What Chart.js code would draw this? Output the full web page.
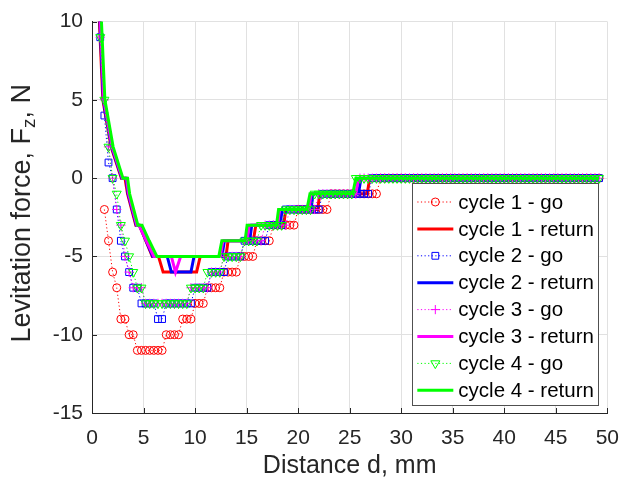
<!DOCTYPE html>
<html>
<head>
<meta charset="utf-8">
<script src="https://cdn.jsdelivr.net/npm/chart.js@4.4.1/dist/chart.umd.min.js"></script>
<style>
  html, body { margin: 0; padding: 0; background: #ffffff; }
  canvas { display: block; }
</style>
</head>
<body>
<canvas id="chart" width="632" height="481"></canvas>
<script>
// Distances at which the "go" sweeps were sampled, mm
const goDistance = [
  0.8, 1.2, 1.6, 2.0, 2.4, 2.8, 3.2, 3.6, 4.0, 4.4,
  4.8, 5.2, 5.6, 6.0, 6.4, 6.8, 7.2, 7.6, 8.0, 8.4,
  8.8, 9.2, 9.6, 10.0, 10.4, 10.8, 11.2, 11.6, 12.0, 12.4,
  12.8, 13.2, 13.6, 14.0, 14.4, 14.8, 15.2, 15.6, 16.0, 16.4,
  16.8, 17.2, 17.6, 18.0, 18.4, 18.8, 19.2, 19.6, 20.0, 20.4,
  20.8, 21.2, 21.6, 22.0, 22.4, 22.8, 23.2, 23.6, 24.0, 24.4,
  24.8, 25.2, 25.6, 26.0, 26.4, 26.8, 27.2, 27.6, 28.0, 28.4,
  28.8, 29.2, 29.6, 30.0, 30.4, 30.8, 31.2, 31.6, 32.0, 32.4,
  32.8, 33.2, 33.6, 34.0, 34.4, 34.8, 35.2, 35.6, 36.0, 36.4,
  36.8, 37.2, 37.6, 38.0, 38.4, 38.8, 39.2, 39.6, 40.0, 40.4,
  40.8, 41.2, 41.6, 42.0, 42.4, 42.8, 43.2, 43.6, 44.0, 44.4,
  44.8, 45.2, 45.6, 46.0, 46.4, 46.8, 47.2, 47.6, 48.0, 48.4,
  48.8, 49.2
];

// Levitation force on the "go" sweeps, N
const goForce1 = [
  null, -2, -4, -6, -7, -9, -9, -10, -10, -11,
  -11, -11, -11, -11, -11, -11, -10, -10, -10, -10,
  -9, -9, -9, -8, -8, -8, -7, -7, -7, -7,
  -6, -6, -6, -6, -5, -5, -5, -5, -4, -4,
  -4, -4, -3, -3, -3, -3, -3, -3, -2, -2,
  -2, -2, -2, -2, -2, -2, -1, -1, -1, -1,
  -1, -1, -1, -1, -1, -1, -1, -1, 0, 0,
  0, 0, 0, 0, 0, 0, 0, 0, 0, 0,
  0, 0, 0, 0, 0, 0, 0, 0, 0, 0,
  0, 0, 0, 0, 0, 0, 0, 0, 0, 0,
  0, 0, 0, 0, 0, 0, 0, 0, 0, 0,
  0, 0, 0, 0, 0, 0, 0, 0, 0, 0,
  0, 0
];
const goForce2 = [
  9, 4, 1, 0, -2, -4, -5, -6, -7, -7,
  -8, -8, -8, -8, -9, -9, -8, -8, -8, -8,
  -8, -8, -8, -7, -7, -7, -7, -6, -6, -6,
  -6, -5, -5, -5, -5, -4, -4, -4, -4, -4,
  -4, -3, -3, -3, -3, -2, -2, -2, -2, -2,
  -2, -2, -2, -2, -1, -1, -1, -1, -1, -1,
  -1, -1, -1, -1, -1, -1, 0, 0, 0, 0,
  0, 0, 0, 0, 0, 0, 0, 0, 0, 0,
  0, 0, 0, 0, 0, 0, 0, 0, 0, 0,
  0, 0, 0, 0, 0, 0, 0, 0, 0, 0,
  0, 0, 0, 0, 0, 0, 0, 0, 0, 0,
  0, 0, 0, 0, 0, 0, 0, 0, 0, 0,
  0, 0
];
const goForce3 = [
  9, 5, 2, 0, -2, -3, -5, -6, -7, -7,
  -7, -8, -8, -8, -8, -8, -8, -8, -8, -8,
  -8, -8, -7, -7, -7, -7, -7, -6, -6, -6,
  -5, -5, -5, -5, -5, -4, -4, -4, -4, -4,
  -3, -3, -3, -3, -3, -3, -2, -2, -2, -2,
  -2, -2, -2, -1, -1, -1, -1, -1, -1, -1,
  -1, -1, -1, 0, 0, 0, 0, 0, 0, 0,
  0, 0, 0, 0, 0, 0, 0, 0, 0, 0,
  0, 0, 0, 0, 0, 0, 0, 0, 0, 0,
  0, 0, 0, 0, 0, 0, 0, 0, 0, 0,
  0, 0, 0, 0, 0, 0, 0, 0, 0, 0,
  0, 0, 0, 0, 0, 0, 0, 0, 0, 0,
  0, 0
];
const goForce4 = [
  9, 5, 2, 0, -1, -3, -4, -5, -6, -7,
  -7, -8, -8, -8, -8, -8, -8, -8, -8, -8,
  -8, -8, -7, -7, -7, -7, -6, -6, -6, -6,
  -5, -5, -5, -5, -5, -4, -4, -4, -4, -3,
  -3, -3, -3, -3, -3, -2, -2, -2, -2, -2,
  -2, -2, -1, -1, -1, -1, -1, -1, -1, -1,
  -1, -1, 0, 0, 0, 0, 0, 0, 0, 0,
  0, 0, 0, 0, 0, 0, 0, 0, 0, 0,
  0, 0, 0, 0, 0, 0, 0, 0, 0, 0,
  0, 0, 0, 0, 0, 0, 0, 0, 0, 0,
  0, 0, 0, 0, 0, 0, 0, 0, 0, 0,
  0, 0, 0, 0, 0, 0, 0, 0, 0, 0,
  0, 0
];

// "Return" sweeps: distance (mm) and force (N) where the reading changes
const returnDistance1 = [0.65, 1.05, 1.85, 2.85, 3.2, 3.45, 4.25, 4.6, 5.85, 6.45, 6.9, 10.15, 10.5, 13.0, 13.2, 15.65, 15.9, 18.6, 18.8, 21.9, 22.1, 26.7, 26.95, 49.2];
const returnForce1    = [11, 5, 2, 0, 0, -1, -3, -3, -5, -5, -6, -6, -5, -5, -4, -4, -3, -3, -2, -2, -1, -1, 0, 0];
const returnDistance2 = [0.7, 1.1, 1.9, 2.9, 3.3, 3.5, 4.3, 4.6, 5.9, 7.3, 7.7, 9.6, 9.9, 12.6, 12.85, 15.3, 15.5, 18.25, 18.45, 21.25, 21.45, 25.85, 26.1, 49.2];
const returnForce2    = [11, 5, 2, 0, 0, -1, -3, -3, -5, -5, -6, -6, -5, -5, -4, -4, -3, -3, -2, -2, -1, -1, 0, 0];
const returnDistance3 = [0.75, 1.15, 1.95, 2.95, 3.35, 3.55, 4.35, 4.55, 6.0, 7.7, 8.1, 8.6, 12.45, 12.7, 15.05, 15.25, 18.0, 18.2, 21.05, 21.25, 25.6, 25.85, 49.2];
const returnForce3    = [11, 5, 2, 0, 0, -1, -3, -3, -5, -5, -6, -5, -5, -4, -4, -3, -3, -2, -2, -1, -1, 0, 0];
const returnDistance4 = [0.85, 1.25, 2.05, 3.0, 3.45, 3.65, 4.45, 4.85, 5.55, 6.3, 12.3, 12.6, 14.85, 15.05, 17.9, 18.1, 20.85, 21.15, 25.3, 25.6, 49.2];
const returnForce4    = [11, 5, 2, 0, 0, -1, -3, -3, -4, -5, -5, -4, -4, -3, -3, -2, -2, -1, -1, 0, 0];

const xTicks = [0, 5, 10, 15, 20, 25, 30, 35, 40, 45, 50];
const yTicks = [-15, -10, -5, 0, 5, 10];
const seriesLabels = [
  'cycle 1 - go', 'cycle 1 - return',
  'cycle 2 - go', 'cycle 2 - return',
  'cycle 3 - go', 'cycle 3 - return',
  'cycle 4 - go', 'cycle 4 - return'
];

const FONT = '"Liberation Sans", Arial, Helvetica, sans-serif';
const AXIS_INK = '#262626';
const cycleColors = ['#ff0000', '#0000ff', '#ff00ff', '#00ff00'];
const markerStyles = [
  { pointStyle: 'circle',   radius: 4.0, rotation: 0 },
  { pointStyle: 'rect',     radius: 4.8, rotation: 0 },
  { pointStyle: 'cross',    radius: 4.6, rotation: 0 },
  { pointStyle: 'triangle', radius: 5.2, rotation: 180 }
];

function pairUp(xs, ys) {
  return xs.map((x, i) => ({ x: x, y: ys[i] }));
}

const goForces = [goForce1, goForce2, goForce3, goForce4];
const returnSeries = [
  [returnDistance1, returnForce1],
  [returnDistance2, returnForce2],
  [returnDistance3, returnForce3],
  [returnDistance4, returnForce4]
];

// Later series sit on top (lower "order" draws last)
const datasets = [];
for (let c = 0; c < 4; c++) {
  const m = markerStyles[c];
  datasets.push({
    label: seriesLabels[2 * c],
    data: pairUp(goDistance, goForces[c]),
    showLine: true,
    borderColor: cycleColors[c],
    borderWidth: 1,
    borderDash: [1.2, 2.4],
    pointStyle: m.pointStyle,
    pointRadius: m.radius,
    pointRotation: m.rotation,
    pointBorderColor: cycleColors[c],
    pointBackgroundColor: 'rgba(0,0,0,0)',
    pointBorderWidth: 1,
    order: 7 - 2 * c
  });
  datasets.push({
    label: seriesLabels[2 * c + 1],
    data: pairUp(returnSeries[c][0], returnSeries[c][1]),
    showLine: true,
    borderColor: cycleColors[c],
    borderWidth: 3,
    pointRadius: 0,
    order: 6 - 2 * c
  });
}

function drawMarker(ctx, style, x, y, color) {
  ctx.save();
  ctx.strokeStyle = color;
  ctx.lineWidth = 1;
  ctx.beginPath();
  if (style.pointStyle === 'circle') {
    ctx.arc(x, y, style.radius, 0, Math.PI * 2);
  } else if (style.pointStyle === 'rect') {
    const h = style.radius * Math.SQRT1_2;
    ctx.rect(x - h, y - h, 2 * h, 2 * h);
  } else if (style.pointStyle === 'cross') {
    ctx.moveTo(x - style.radius, y); ctx.lineTo(x + style.radius, y);
    ctx.moveTo(x, y - style.radius); ctx.lineTo(x, y + style.radius);
  } else {
    const r = style.radius;
    ctx.moveTo(x, y + r);
    ctx.lineTo(x - r * Math.sin(Math.PI / 3), y - r / 2);
    ctx.lineTo(x + r * Math.sin(Math.PI / 3), y - r / 2);
    ctx.closePath();
  }
  ctx.stroke();
  ctx.restore();
}

// Inward tick marks, the boxed legend and the y-axis title with subscript
const decorations = {
  id: 'decorations',
  afterDraw(chart) {
    const { ctx, chartArea, scales } = chart;
    ctx.save();

    // tick marks pointing into the plot
    ctx.strokeStyle = AXIS_INK;
    ctx.lineWidth = 1;
    ctx.beginPath();
    xTicks.forEach(v => {
      const px = Math.round(scales.x.getPixelForValue(v)) + 0.5;
      ctx.moveTo(px, chartArea.bottom);
      ctx.lineTo(px, chartArea.bottom - 5);
    });
    yTicks.forEach(v => {
      const py = Math.round(scales.y.getPixelForValue(v)) + 0.5;
      ctx.moveTo(chartArea.left, py);
      ctx.lineTo(chartArea.left + 5, py);
    });
    ctx.stroke();

    // legend
    const boxRight = chartArea.right - 9;
    const boxLeft = boxRight - 186;
    const boxTop = 183;
    const boxHeight = 222;
    ctx.fillStyle = '#ffffff';
    ctx.fillRect(boxLeft, boxTop, boxRight - boxLeft, boxHeight);
    ctx.strokeStyle = '#505050';
    ctx.lineWidth = 1;
    ctx.strokeRect(Math.round(boxLeft) + 0.5, boxTop + 0.5, Math.round(boxRight - boxLeft), boxHeight);

    ctx.font = '20.5px ' + FONT;
    ctx.textBaseline = 'middle';
    ctx.textAlign = 'left';
    for (let i = 0; i < seriesLabels.length; i++) {
      const c = Math.floor(i / 2);
      const isGo = i % 2 === 0;
      const rowY = boxTop + 19 + i * 26.9;
      const x0 = boxLeft + 5, x1 = boxLeft + 41;
      ctx.save();
      ctx.strokeStyle = cycleColors[c];
      ctx.lineWidth = isGo ? 1 : 3;
      ctx.setLineDash(isGo ? [1.2, 2.4] : []);
      ctx.beginPath();
      ctx.moveTo(x0, rowY);
      ctx.lineTo(x1, rowY);
      ctx.stroke();
      ctx.restore();
      if (isGo) drawMarker(ctx, markerStyles[c], (x0 + x1) / 2, rowY, cycleColors[c]);
      ctx.fillStyle = '#000000';
      ctx.fillText(seriesLabels[i], boxLeft + 46, rowY + 1);
    }

    // y-axis title: Levitation force, F_z, N
    const midY = (chartArea.top + chartArea.bottom) / 2;
    ctx.translate(23, midY - 4);
    ctx.rotate(-Math.PI / 2);
    ctx.fillStyle = AXIS_INK;
    ctx.textBaseline = 'middle';
    const mainFont = '27px ' + FONT, subFont = '19px ' + FONT;
    const partA = 'Levitation force, F', partB = 'z', partC = ', N';
    ctx.font = mainFont; const wA = ctx.measureText(partA).width; const wC = ctx.measureText(partC).width;
    ctx.font = subFont; const wB = ctx.measureText(partB).width;
    let cx = -(wA + wB + wC) / 2;
    ctx.font = mainFont; ctx.fillText(partA, cx, 0); cx += wA;
    ctx.font = subFont; ctx.fillText(partB, cx, 7); cx += wB;
    ctx.font = mainFont; ctx.fillText(partC, cx, 0);
    ctx.restore();
  }
};

new Chart(document.getElementById('chart'), {
  type: 'scatter',
  data: { datasets: datasets },
  options: {
    responsive: false,
    devicePixelRatio: 1,
    animation: false,
    events: [],
    layout: { padding: { left: 0, right: 20, top: 17, bottom: 0 } },
    plugins: { legend: { display: false }, tooltip: { enabled: false } },
    scales: {
      x: {
        type: 'linear',
        min: 0, max: 50,
        afterFit(scale) { scale.height = 68; },
        afterBuildTicks(scale) { scale.ticks = xTicks.map(v => ({ value: v })); },
        ticks: { color: AXIS_INK, font: { family: FONT, size: 21 }, padding: 13, maxRotation: 0 },
        grid: { color: '#e1e1e1', lineWidth: 1, drawTicks: false },
        border: { display: true, color: AXIS_INK, width: 1 },
        title: { display: true, text: 'Distance d, mm', color: AXIS_INK, font: { family: FONT, size: 25 }, padding: { top: 0, bottom: 0 } }
      },
      y: {
        type: 'linear',
        min: -15, max: 10,
        afterFit(scale) { scale.width = 92; },
        afterBuildTicks(scale) { scale.ticks = yTicks.map(v => ({ value: v })); },
        ticks: { color: AXIS_INK, font: { family: FONT, size: 21 }, padding: 9 },
        grid: { color: '#e1e1e1', lineWidth: 1, drawTicks: false },
        border: { display: true, color: AXIS_INK, width: 1 }
      }
    }
  },
  plugins: [decorations]
});
</script>
</body>
</html>
